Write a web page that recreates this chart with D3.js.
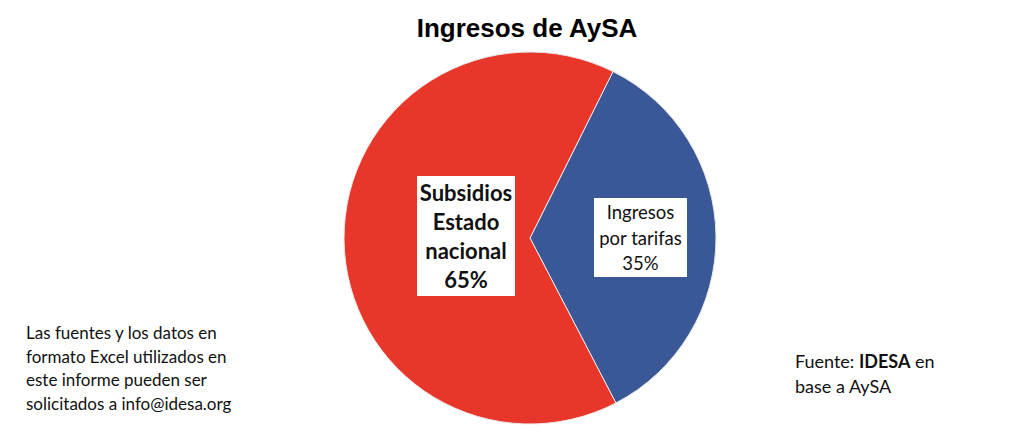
<!DOCTYPE html>
<html><head><meta charset="utf-8">
<script src="https://cdn.jsdelivr.net/npm/d3@7"></script>
<style>body{margin:0;background:#fff;} svg{display:block;}</style>
</head><body>
<svg id="c" width="1024" height="442"></svg>
<script>
const title = "Ingresos de AySA";
const categories = ["Ingresos por tarifas", "Subsidios Estado nacional"];
const values = [35, 65];
const colors = ["#3A5797", "#E8372A"];
const labelLines = [["Ingresos", "por tarifas", "35%"], ["Subsidios", "Estado", "nacional", "65%"]];
const noteLines = ["Las fuentes y los datos en", "formato Excel utilizados en", "este informe pueden ser", "solicitados a info@idesa.org"];
const sourceLines = [["Fuente: ", "IDESA", " en"], ["base a AySA"]];

const svg = d3.select("#c");
const cx = 530, cy = 238, r = 186;
const start = 26.5 * Math.PI / 180;

svg.append("text").attr("x", 527).attr("y", 37).attr("text-anchor", "middle")
  .attr("font-family", "Liberation Sans, Arial, sans-serif").attr("font-weight", "bold")
  .attr("font-size", 26).attr("fill", "#000").text(title);

const pie = d3.pie().sort(null).value(d => d).startAngle(start).endAngle(start + 2 * Math.PI);
const arcs = pie(values);
const arc = d3.arc().innerRadius(0).outerRadius(r);
const g = svg.append("g").attr("transform", `translate(${cx},${cy})`);
g.selectAll("path").data(arcs).join("path")
  .attr("d", arc).attr("fill", (d, i) => colors[i])
  .attr("stroke", "#e8e8e8").attr("stroke-width", 1);

// label boxes
const boxes = [
  {x: 594, y: 198, w: 93, h: 79, fs: 18.5, lh: 25.5, bold: false, ty: 219},
  {x: 417, y: 176, w: 98, h: 120, fs: 22, lh: 29, bold: true, ty: 201}
];
boxes.forEach((b, i) => {
  svg.append("rect").attr("x", b.x).attr("y", b.y).attr("width", b.w).attr("height", b.h).attr("fill", "#fff");
  const t = svg.append("text").attr("text-anchor", "middle")
    .attr("font-family", "Lato, 'Open Sans', sans-serif")
    .attr("font-weight", b.bold ? "bold" : "normal").attr("font-size", b.fs).attr("fill", "#111");
  labelLines[i].forEach((l, j) => {
    t.append("tspan").attr("x", b.x + b.w / 2).attr("y", b.ty + j * b.lh).text(l);
  });
});

// note
const nt = svg.append("text").attr("font-family", "Lato, 'Open Sans', sans-serif").attr("font-size", 17).attr("fill", "#111");
noteLines.forEach((l, j) => nt.append("tspan").attr("x", 26).attr("y", 339 + j * 23.5).text(l));

// source
const st = svg.append("text").attr("font-family", "Lato, 'Open Sans', sans-serif").attr("font-size", 18).attr("fill", "#111");
sourceLines.forEach((line, j) => {
  line.forEach((part, k) => {
    const ts = st.append("tspan").text(part).attr("font-weight", part === "IDESA" ? "bold" : "normal");
    if (k === 0) ts.attr("x", 795).attr("y", 368 + j * 25);
  });
});
</script>
</body></html>
